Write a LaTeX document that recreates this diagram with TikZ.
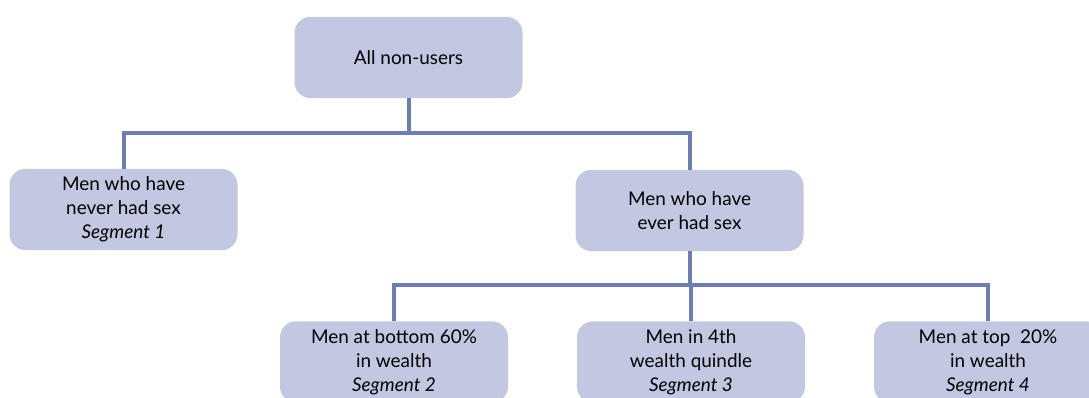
\documentclass[tikz,border=0pt]{standalone}
\usepackage{fontspec}
\setmainfont{Lato}
\definecolor{boxfill}{HTML}{C3C8E2}
\definecolor{linkblue}{HTML}{6A7DB6}
\begin{document}
\begin{tikzpicture}[x=0.75pt,y=-0.75pt,
  seg/.style={draw=none, fill=boxfill, rounded corners=12pt,
    minimum width=171pt, minimum height=61pt, align=center,
    inner sep=0pt, font=\fontsize{14.2}{18}\selectfont},
  link/.style={draw=linkblue, line width=3pt}]
\useasboundingbox (0,0) rectangle (1089,397);
\clip (0,0) rectangle (1089,397);
% boxes
\node[seg] (root) at (408.5,57.5) {All non-users};
\node[seg] (never) at (123.5,209.5) {Men who have\\never had sex\\\textit{Segment 1}};
\node[seg] (ever) at (689.5,210.5) {Men who have\\ever had sex};
\node[seg] (s2) at (394,362) {Men at bottom 60\%\\in wealth\\\textit{Segment 2}};
\node[seg] (s3) at (691,362) {Men in 4th\\wealth quindle\\\textit{Segment 3}};
\node[seg] (s4) at (988,362) {Men at top~~20\%\\in wealth\\\textit{Segment 4}};
% bus levels
\coordinate (busA) at (0,133);
\coordinate (busB) at (0,285);
% first level tree
\draw[link] (root.south) -- (root.south |- busA);
\draw[link] (never.north) -- (never.north |- busA) -- (ever.north |- busA) -- (ever.north);
% second level tree
\draw[link] (ever.south) -- (ever.south |- busB);
\draw[link] (s2.north) -- (s2.north |- busB) -- (s4.north |- busB) -- (s4.north);
\draw[link] (s3.north) -- (s3.north |- busB);
\end{tikzpicture}
\end{document}
